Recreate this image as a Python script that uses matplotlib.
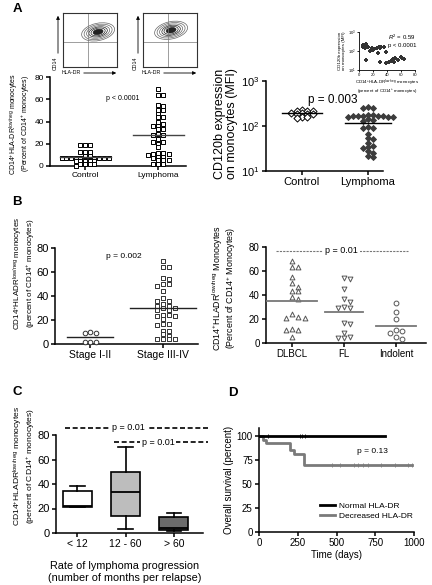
import numpy as np
import matplotlib
matplotlib.use('Agg')
import matplotlib.pyplot as plt
from matplotlib.patches import Ellipse, FancyArrowPatch
from matplotlib.lines import Line2D

plt.rcParams['font.family'] = ['Liberation Sans', 'DejaVu Sans']
plt.rcParams['mathtext.fontset'] = 'custom'
plt.rcParams['mathtext.rm'] = 'Liberation Sans'
plt.rcParams['mathtext.it'] = 'Liberation Sans:italic'
plt.rcParams['mathtext.bf'] = 'Liberation Sans:bold'

W, H = 432, 585

# ---------------- data ----------------
# A left: % CD14+HLA-DR low/neg monocytes
a_groups = ['Control', 'Lymphoma']
a_control = [19, 19, 19, 13, 13, 13, 9, 9, 7, 7, 7, 7, 7, 7, 7, 7, 7,
             4.5, 4.5, 4.5, 4.5, 4.5, 2, 2, 2, 2, 0]
a_lymphoma = [69, 64, 64, 55, 54, 50, 50, 47, 44, 44, 40, 38, 36, 36, 33, 33,
              29, 28, 28, 24, 22, 22, 20, 17, 12, 12, 11, 11, 10, 8, 8, 7,
              5, 5, 5, 2, 2, 2]

# A right: CD120b MFI
cd120_control = [222, 220, 218, 215, 192, 190, 188, 186, 184, 158, 155, 152]
cd120_lymphoma = [260, 255, 250, 175, 172, 170, 168, 166, 165, 163, 160, 158,
                  155, 140, 135, 130, 95, 90, 88, 68, 55, 52, 42, 36, 34, 32,
                  28, 25, 22, 20]

# A inset: correlation
inset_pct = [5, 6, 7, 8, 9, 10, 6, 8, 10, 13, 18, 20, 22, 25, 28, 30, 32, 35,
             15, 10, 27, 38, 30, 38, 45, 48, 52, 55, 60, 62, 64, 43, 50]
inset_mfi = [200, 210, 190, 180, 200, 170, 160, 150, 220, 160, 140, 110, 130,
             150, 160, 150, 170, 160, 100, 35, 80, 90, 25, 22, 30, 40, 45, 35,
             50, 45, 40, 28, 25]

# B left: stage
b_stages = ['Stage I-II', 'Stage III-IV']
b_stage12 = [10, 9, 9, 2, 2, 2]
b_stage34 = [69, 64, 64, 55, 54, 50, 50, 48, 44, 38, 36, 36, 33, 32, 32, 30,
             30, 28, 28, 24, 24, 23, 23, 21, 17, 17, 16, 11, 11, 8, 7, 4, 4,
             4, 4]

# B right: histology
b_hist = ['DLBCL', 'FL', 'Indolent']
b_dlbcl = [68, 63, 63, 55, 50, 47, 43, 43, 38, 37, 24, 22, 21, 21, 12, 11, 11, 5]
b_fl = [54, 53, 45, 37, 34, 30, 29, 29, 17, 16, 8, 5, 4, 4]
b_indolent = [33, 26, 20, 11, 10, 8, 5, 3]

# C: box plots by progression rate
c_labels = ['< 12', '12 - 60', '> 60']
c_whislo = [21, 3, 2]
c_q1 = [21.5, 13.5, 2.5]
c_med = [22, 33.5, 4]
c_q3 = [34, 50, 13]
c_whishi = [38, 70, 16]
c_colors = ['white', '#bdbdbd', '#6b6b6b']

# D: overall survival
km_norm_t = [0, 810]
km_norm_s = [100, 100]
km_dec_t = [0, 26, 47, 197, 223, 293, 990]
km_dec_s = [100, 96, 92, 85, 81, 70, 70]
norm_cens = [60, 265, 280, 295]
dec_cens = [470, 520, 610, 640, 670, 700, 790, 880, 960, 985]

# flow cytometry contour shapes (centre x, centre y) per plot
flow_centres = [(65, 65), (52, 68)]
flow_scales = [1.0, 0.85, 0.7, 0.56, 0.43, 0.3, 0.18]

# ---------------- helpers ----------------
fig = plt.figure(figsize=(W / 100, H / 100), dpi=100)


def box(x0, y0, x1, y1):
    return [x0 / W, 1 - y1 / H, (x1 - x0) / W, (y1 - y0) / H]


def ftext(x, y, s, **kw):
    fig.text(x / W, 1 - y / H, s, **kw)


def vlabel(x1, x2, y, line1, line2, fs):
    # two-line rotated axis title, one Text per line so the spacing stays tight
    ftext(x1, y, line1, rotation=90, fontsize=fs, ha='center', va='center')
    ftext(x2, y, line2, rotation=90, fontsize=fs, ha='center', va='center')


def style(ax, fs, lw=1.1):
    for s in ('top', 'right'):
        ax.spines[s].set_visible(False)
    for s in ('left', 'bottom'):
        ax.spines[s].set_linewidth(lw)
    ax.tick_params(direction='out', length=3, width=lw, labelsize=fs, pad=1.5)


def beeswarm(ax, vals, pos, d, h):
    # GraphPad-like scatter: shift a point sideways while it overlaps a placed one
    pts = ax.transData.transform(np.column_stack([np.full(len(vals), pos),
                                                  np.asarray(vals, float)]))
    ypx = pts[:, 1]
    x0 = pts[0, 0]
    order = np.argsort(-ypx, kind='stable')
    cands = [0.0]
    for j in range(1, 40):
        cands += [j * d / 2, -j * d / 2]
    placed = []
    offs = np.zeros(len(vals))
    for i in order:
        for c in cands:
            if all(abs(c - px) >= d - 1e-6 or abs(ypx[i] - py) >= h
                   for px, py in placed):
                break
        placed.append((c, ypx[i]))
        offs[i] = c
    inv = ax.transData.inverted()
    return inv.transform(np.column_stack([x0 + offs, ypx]))[:, 0]


def dots(ax, vals, pos, marker, ec, fc='white', d=5.5, h=3.0, s=12, lw=0.7):
    xs = beeswarm(ax, vals, pos, d, h)
    ax.scatter(xs, vals, marker=marker, s=s, facecolors=fc, edgecolors=ec,
               linewidths=lw, zorder=3, clip_on=False)


def meanline(ax, vals, pos, half, color, lw=1.0):
    m = np.mean(vals)
    ax.plot([pos - half, pos + half], [m, m], color=color, lw=lw, zorder=4,
            clip_on=False)


def arrow(x0, y0, x1, y1):
    fig.add_artist(FancyArrowPatch(
        (x0 / W, 1 - y0 / H), (x1 / W, 1 - y1 / H), transform=fig.transFigure,
        arrowstyle='-|>', mutation_scale=5, lw=0.6, color='black'))


cd14_low = r'CD14$^{+}$HLADR$^{\mathrm{low/neg}}$'

# ---------------- A: flow plots ----------------
for i, (cx, cy) in enumerate(flow_centres):
    off = 80 * i
    fax = fig.add_axes(box(63 + off, 13, 117 + off, 67))
    fax.set_xlim(0, 100)
    fax.set_ylim(0, 100)
    fax.set_xticks([])
    fax.set_yticks([])
    for s in fax.spines.values():
        s.set_linewidth(0.8)
        s.set_color('#333333')
    fax.axvline(46, color='#777777', lw=0.5)
    fax.axhline(46, color='#777777', lw=0.5)
    for k, sc in enumerate(flow_scales):
        inner = k >= len(flow_scales) - 2
        fax.add_patch(Ellipse((cx, cy), 62 * sc, 32 * sc, angle=12,
                              fc='#222222' if inner else 'none',
                              ec='#222222' if k > 2 else '#666666', lw=0.5))
    arrow(58 + off, 56, 58 + off, 13)
    arrow(81 + off, 73, 119 + off, 73)
    ftext(55.5 + off, 63, 'CD14', rotation=90, fontsize=3.8, ha='center',
          va='center')
    ftext(71 + off, 73, 'HLA-DR', fontsize=3.8, ha='center', va='center')

# ---------------- A left ----------------
ax = fig.add_axes(box(50, 77, 186, 166))
style(ax, 6)
ax.set_ylim(0, 80)
ax.set_yticks([0, 20, 40, 60, 80])
ax.set_xlim(0.52, 2.38)
ax.set_xticks([1, 2])
ax.set_xticklabels(a_groups, fontsize=6)
dots(ax, a_control, 1, 's', 'black', d=4.7, h=2.5, s=10)
dots(ax, a_lymphoma, 2, 's', 'black', d=5.2, h=2.5, s=10)
meanline(ax, a_control, 1, 0.35, '#444444')
meanline(ax, a_lymphoma, 2, 0.35, '#444444')
ax.text(1.51, 61, 'p < 0.0001', fontsize=5, ha='center', va='center')
vlabel(14, 25.5, 124, r'CD14$^{+}$HLA-DR$^{\mathrm{low/neg}}$ monocytes',
       r'(Percent of CD14$^{+}$ monocytes)', 5.0)
ftext(17, 9, 'A', fontsize=9.5, fontweight='bold', ha='center', va='center')

# ---------------- A right ----------------
ax = fig.add_axes(box(266, 81, 383, 171))
style(ax, 8)
ax.set_yscale('log')
ax.set_ylim(10, 1000)
ax.minorticks_off()
ax.set_yticks([10, 100, 1000])
ax.set_xlim(0.455, 2.23)
ax.set_xticks([1, 2])
ax.set_xticklabels(a_groups, fontsize=8)
dots(ax, cd120_control, 1, 'D', 'black', d=5.3, h=3.0, s=13)
dots(ax, cd120_lymphoma, 2, 'D', '#3c3c3c', fc='#3c3c3c', d=5.0, h=3.2, s=9)
meanline(ax, cd120_control, 1, 0.3, 'black')
meanline(ax, cd120_lymphoma, 2, 0.35, 'black')
ax.text(1.47, 380, 'p = 0.003', fontsize=8.5, ha='center', va='center')
ftext(226, 124, 'CD120b expression\non monocytes (MFI)', rotation=90,
      fontsize=9, ha='center', va='center', linespacing=1.05)

# inset
ax = fig.add_axes(box(359, 32, 415, 70))
style(ax, 3, lw=0.6)
ax.tick_params(length=1.5, pad=0.6)
ax.set_yscale('log')
ax.set_ylim(10, 1000)
ax.minorticks_off()
ax.set_yticks([10, 100, 1000])
ax.set_xlim(0, 80)
ax.set_xticks([0, 20, 40, 60, 80])
ax.scatter(inset_pct, inset_mfi, marker='P', s=5, color='#333333', lw=0)
ax.text(0.52, 0.78, '$R^{2}$ = 0.59\np < 0.0001', transform=ax.transAxes,
        fontsize=4.3, va='center', ha='left', linespacing=1.2)
ftext(387, 82.5, r'CD14$^{+}$HLA-DR$^{\mathrm{low/neg}}$ monocytes',
      fontsize=3.2, ha='center', va='center')
ftext(387, 91.5, r'(percent of CD14$^{+}$ monocytes)', fontsize=3.2,
      ha='center', va='center')
ftext(342, 51, 'CD120b expression\non monocytes (MFI)', rotation=90,
      fontsize=3.2, ha='center', va='center', linespacing=1.1)

# ---------------- B left ----------------
ax = fig.add_axes(box(55, 248, 198, 344))
style(ax, 8)
ax.set_ylim(0, 80)
ax.set_yticks([0, 20, 40, 60, 80])
ax.set_xlim(0.52, 2.48)
ax.set_xticks([1, 2])
ax.set_xticklabels(b_stages, fontsize=7.5)
dots(ax, b_stage12, 1, 'o', '#333333', d=5.5, h=3.0, s=11)
dots(ax, b_stage34, 2, 's', '#333333', d=5.8, h=3.2, s=11)
meanline(ax, b_stage12, 1, 0.32, '#222222')
meanline(ax, b_stage34, 2, 0.45, '#222222')
ax.text(1.465, 73, 'p = 0.002', fontsize=6, ha='center', va='center')
vlabel(18.5, 31, 273, cd14_low + ' monocytes',
       r'(percent of CD14$^{+}$ monocytes)', 5.8)
ftext(17, 202, 'B', fontsize=9.5, fontweight='bold', ha='center', va='center')

# ---------------- B right ----------------
ax = fig.add_axes(box(266, 247, 426, 343))
style(ax, 7)
ax.set_ylim(0, 80)
ax.set_yticks([0, 20, 40, 60, 80])
ax.set_xlim(0.5, 3.58)
ax.set_xticks([1, 2, 3])
ax.set_xticklabels(b_hist, fontsize=7)
dots(ax, b_dlbcl, 1, '^', '#555555', d=6.3, h=4.0, s=12)
dots(ax, b_fl, 2, 'v', '#555555', d=6.3, h=4.0, s=12)
dots(ax, b_indolent, 3, 'o', '#555555', d=6.3, h=4.0, s=12)
for vals, pos, half in ((b_dlbcl, 1, 0.48), (b_fl, 2, 0.37),
                        (b_indolent, 3, 0.38)):
    meanline(ax, vals, pos, half, '#777777', lw=1.3)
ax.plot([0.69, 3.23], [77, 77], color='#777777', lw=0.8, ls=(0, (2, 1)),
        clip_on=False)
ax.text(1.96, 77, 'p = 0.01', fontsize=6.5, ha='center', va='center',
        bbox=dict(fc='white', ec='none', pad=1.5))
vlabel(218, 231.5, 288, cd14_low + ' Monocytes',
       r'(Percent of CD14$^{+}$ Monocytes)', 6.4)

# ---------------- C ----------------
ax = fig.add_axes(box(56, 435, 203, 533))
style(ax, 8)
ax.set_ylim(0, 80)
ax.set_yticks([0, 20, 40, 60, 80])
ax.set_xlim(0.56, 3.6)
stats = [dict(whislo=lo, q1=q1, med=md, q3=q3, whishi=hi, fliers=[])
         for lo, q1, md, q3, hi in zip(c_whislo, c_q1, c_med, c_q3, c_whishi)]
bp = ax.bxp(stats, positions=[1, 2, 3], widths=0.6, capwidths=0.3,
            patch_artist=True, showfliers=False,
            boxprops=dict(lw=1.2, ec='black'),
            medianprops=dict(color='black', lw=1.3),
            whiskerprops=dict(lw=1.2), capprops=dict(lw=1.2))
for patch, c in zip(bp['boxes'], c_colors):
    patch.set_facecolor(c)
ax.set_xticks([1, 2, 3])
ax.set_xticklabels(c_labels, fontsize=7.5)
ax.plot([0.75, 3.7], [86, 86], color='black', lw=1.2, ls=(0, (3, 1.6)),
        clip_on=False)
ax.text(2.06, 86, 'p = 0.01', fontsize=6.5, ha='center', va='center',
        bbox=dict(fc='white', ec='none', pad=1.5), clip_on=False)
ax.plot([1.75, 3.7], [74, 74], color='black', lw=1.2, ls=(0, (3, 1.6)),
        clip_on=False)
ax.text(2.67, 74, 'p = 0.01', fontsize=6.5, ha='center', va='center',
        bbox=dict(fc='white', ec='none', pad=1.5), clip_on=False)
ftext(125, 572, 'Rate of lymphoma progression\n(number of months per relapse)',
      fontsize=7.8, ha='center', va='center', linespacing=1.2)
vlabel(18.5, 31, 466, cd14_low + ' monocytes',
       r'(percent of CD14$^{+}$ monocytes)', 6.1)
ftext(17, 392, 'C', fontsize=9.5, fontweight='bold', ha='center', va='center')

# ---------------- D ----------------
ax = fig.add_axes(box(259, 428, 414, 532))
style(ax, 7)
ax.set_xlim(0, 1000)
ax.set_ylim(0, 108)
ax.set_xticks([0, 250, 500, 750, 1000])
ax.set_yticks([0, 25, 50, 75, 100])
ax.step(km_dec_t, km_dec_s, where='post', color='#7a7a7a', lw=2, zorder=2)
ax.step(km_norm_t, km_norm_s, where='post', color='black', lw=2, zorder=3)


def surv_at(t, ts, ss):
    idx = np.searchsorted(ts, t, side='right') - 1
    return np.asarray(ss)[idx]


ax.plot(norm_cens, surv_at(norm_cens, km_norm_t, km_norm_s), '|', ms=3,
        mew=0.6, color='black', zorder=4)
ax.plot(dec_cens, surv_at(dec_cens, km_dec_t, km_dec_s), '|', ms=3, mew=0.6,
        color='#7a7a7a', zorder=4)
ax.text(729, 84, 'p = 0.13', fontsize=6, ha='center', va='center')
ax.set_xlabel('Time (days)', fontsize=7, labelpad=1)
ax.set_ylabel('Overall survival (percent)', fontsize=7, labelpad=2)
handles = [Line2D([], [], color='black', lw=2),
           Line2D([], [], color='#7a7a7a', lw=2)]
ax.legend(handles, ['Normal HLA-DR', 'Decreased HLA-DR'], loc='lower right',
          bbox_to_anchor=(1.04, 0.04), frameon=False, fontsize=6,
          handlelength=1.8, handletextpad=0.4, labelspacing=0.3)
ftext(233, 393, 'D', fontsize=9.5, fontweight='bold', ha='center', va='center')

fig.savefig('out.png', dpi=100)
